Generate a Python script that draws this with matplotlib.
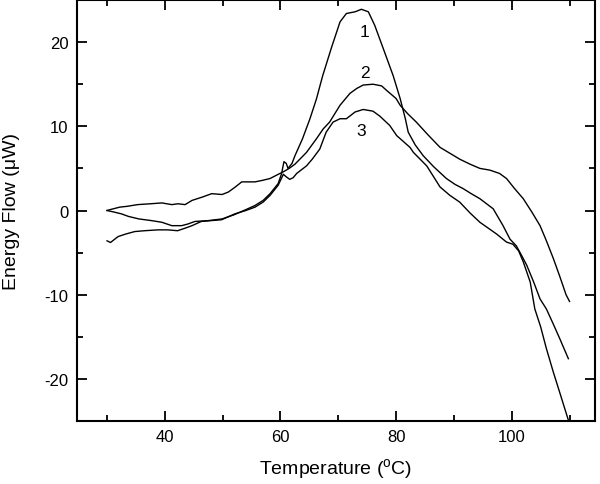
import numpy as np
import matplotlib
matplotlib.use('Agg')
import matplotlib.pyplot as plt
from matplotlib.ticker import MultipleLocator

plt.rcParams['font.family'] = ['Liberation Sans', 'DejaVu Sans']
plt.rcParams['mathtext.fontset'] = 'custom'
plt.rcParams['mathtext.rm'] = 'Liberation Sans'
plt.rcParams['axes.unicode_minus'] = False

# curve 1 (highest peak)
x1 = [30, 31.3, 32.5, 33.7, 35.5, 37.7, 39.5, 41.2, 42.9, 44, 45.2, 47.5, 49.9, 52, 54, 55.6,
      57, 58.2, 59.6, 60.2, 60.6, 61.0, 61.3, 62.0, 62.5, 63.8, 65.1, 66.2, 67.3, 68.8, 70.3,
      71.4, 72.9, 74.0, 75.2, 76.3, 77.8, 79.5, 80.7, 81.6, 82.1, 83.3, 84.7, 86.5, 88.7, 90.2,
      91.6, 93, 94.5, 96.8, 98.5, 99.7, 100.8, 101.6, 102.6, 103.8, 104.9, 106.0, 107.2, 108.3, 109.8]
y1 = [0, -0.2, -0.4, -0.7, -1.0, -1.2, -1.4, -1.8, -1.8, -1.6, -1.3, -1.2, -1.0, -0.5, 0.1, 0.6,
      1.2, 2.0, 3.2, 4.4, 5.8, 5.6, 5.0, 5.6, 6.5, 8.5, 10.9, 13.2, 16.0, 19.3, 22.4,
      23.4, 23.6, 23.9, 23.6, 22.0, 19.2, 16.0, 13.3, 10.9, 9.3, 7.8, 6.5, 5.2, 3.8, 3.1,
      2.6, 2.0, 1.4, 0.2, -1.8, -3.4, -4.2, -5.2, -6.5, -8.5, -10.5, -11.7, -13.5, -15.2, -17.6]

# curve 2
x2 = [30, 30.5, 32.2, 33.5, 35.3, 37.5, 39.5, 41.2, 42.3, 43.5, 44.7, 46.5, 48.1, 49.9, 51,
      52.2, 53.3, 55.6, 57, 58.2, 59.9, 60.5, 61.5, 62.5, 63.5, 64.5, 66.2, 67.4, 68.5, 70.3,
      72, 73.2, 74.3, 76, 77.5, 78.3, 80, 80.7, 82, 83.5, 85.5, 87.6, 89.3, 91, 92.8, 94.5,
      96.2, 97.9, 99.1, 100.5, 102, 103.5, 104.9, 106, 107.2, 108.3, 109.4, 110]
y2 = [0, 0.1, 0.4, 0.5, 0.7, 0.8, 0.9, 0.7, 0.8, 0.7, 1.2, 1.6, 2.0, 1.9, 2.2,
      2.8, 3.4, 3.4, 3.6, 3.8, 4.4, 4.6, 5.0, 5.5, 6.2, 6.9, 8.5, 9.7, 10.5, 12.5,
      13.9, 14.5, 14.9, 15.0, 14.8, 14.3, 13.3, 12.5, 11.5, 10.5, 9.0, 7.5, 6.8, 6.1, 5.5, 5.0,
      4.8, 4.4, 3.8, 2.6, 1.4, -0.2, -1.8, -3.6, -5.7, -7.8, -10.0, -10.8]

# curve 3
x3 = [30, 30.6, 31.9, 33.2, 34.8, 36.5, 38.8, 40.5, 42.2, 43.5, 44.7, 46.3, 48, 49.8, 52.1,
      54, 55.6, 57, 58.2, 59.6, 60.5, 61.0, 61.6, 62.2, 62.8, 64.5, 65.5, 66.8, 67.9, 69.1,
      70.3, 71.4, 72.9, 74.3, 76, 77.2, 78.9, 80.1, 82.4, 83.0, 85.3, 87.6, 89.3, 91, 92.8,
      94.5, 97.4, 99.1, 100.2, 101.2, 102, 103.2, 104, 105, 106, 107.2, 108.3, 109.8]
y3 = [-3.6, -3.8, -3.1, -2.8, -2.5, -2.4, -2.3, -2.3, -2.4, -2.1, -1.8, -1.3, -1.2, -1.1, -0.4,
      0.0, 0.4, 1.0, 1.8, 3.0, 4.3, 4.0, 3.7, 3.9, 4.4, 5.3, 6.1, 7.3, 9.3, 10.5,
      10.9, 10.9, 11.7, 12.0, 11.8, 11.2, 10.1, 8.9, 7.5, 6.9, 5.3, 2.8, 1.8, 1.0, -0.3,
      -1.4, -2.8, -3.75, -4.0, -4.8, -6.1, -8.5, -11.7, -13.8, -16.4, -19.2, -21.6, -24.9]

curve_labels = ['1', '2', '3']
label_pos = [(74.6, 21.3), (74.6, 16.4), (74.0, 9.5)]

fig = plt.figure(figsize=(6, 4.85), dpi=100)
ax = fig.add_axes([0.1283, 0.1299, 0.8633, 0.868])

for xs, ys in [(x1, y1), (x2, y2), (x3, y3)]:
    ax.plot(xs, ys, color='black', lw=1.0)

for txt, (px, py) in zip(curve_labels, label_pos):
    ax.text(px, py, txt, fontsize=12.5, ha='center', va='center')

ax.set_xlim(24.8, 114.4)
ax.set_ylim(-25, 25)
ax.xaxis.set_major_locator(MultipleLocator(20))
ax.xaxis.set_minor_locator(MultipleLocator(10))
ax.yaxis.set_major_locator(MultipleLocator(10))
ax.yaxis.set_minor_locator(MultipleLocator(5))
ax.tick_params(which='both', direction='in', top=True, right=True, width=1.3, labelsize=12)
ax.tick_params(which='major', length=7, pad=6)
ax.tick_params(which='minor', length=4)
for s in ax.spines.values():
    s.set_linewidth(1.5)

ax.set_xlabel(r'Temperature ($^{\rm o}$C)', fontsize=14)
ax.set_ylabel('Energy Flow (\u03bcW)', fontsize=14)
ax.xaxis.set_label_coords(0.5, -0.085)
ax.yaxis.set_label_coords(-0.11, 0.5)

plt.savefig('out.png', dpi=100)
